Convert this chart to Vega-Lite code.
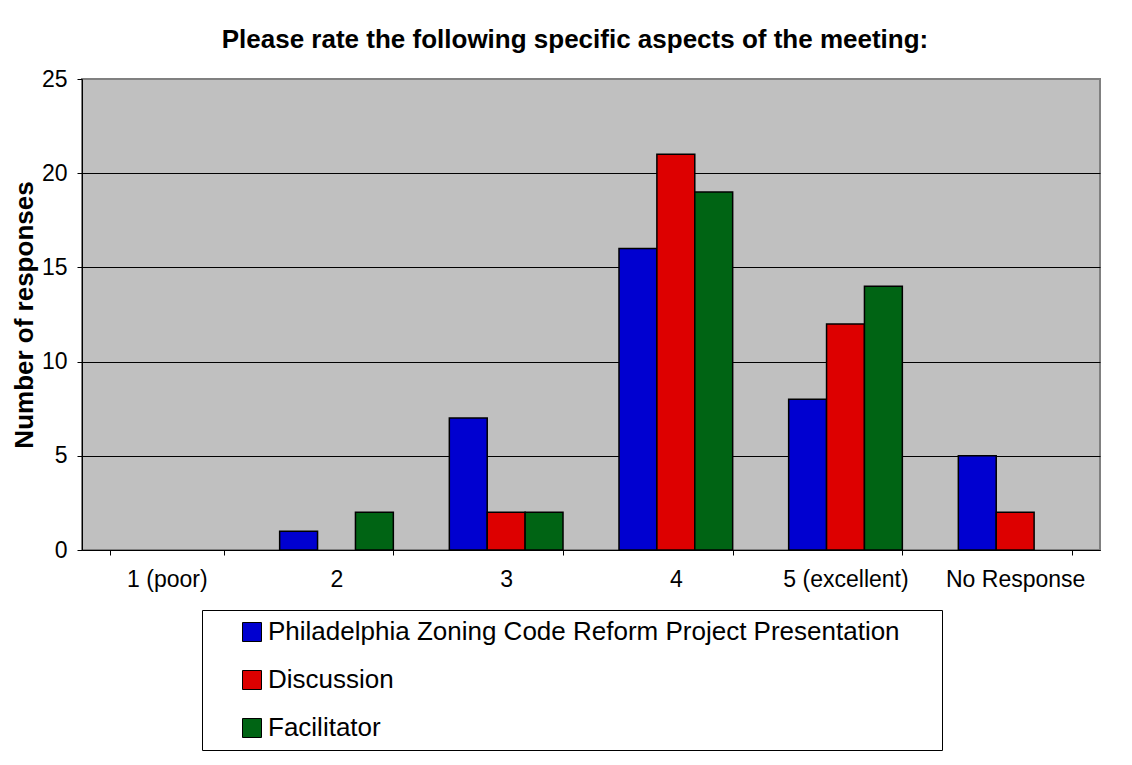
{
  "$schema": "https://vega.github.io/schema/vega-lite/v6.json",
  "width": 1018,
  "height": 471,
  "autosize": {"type": "none"},
  "padding": {"left": 82, "top": 79, "right": 32, "bottom": 215},
  "background": "white",
  "title": {
    "text": "Please rate the following specific aspects of the meeting:",
    "font": "Liberation Sans",
    "fontSize": 26,
    "fontWeight": "bold",
    "color": "black",
    "anchor": "middle",
    "dx": -16,
    "offset": 15
  },
  "data": {
    "values": [
      {"rating": "1 (poor)", "series": "Philadelphia Zoning Code Reform Project Presentation", "count": 0},
      {"rating": "1 (poor)", "series": "Discussion", "count": 0},
      {"rating": "1 (poor)", "series": "Facilitator", "count": 0},
      {"rating": "2", "series": "Philadelphia Zoning Code Reform Project Presentation", "count": 1},
      {"rating": "2", "series": "Discussion", "count": 0},
      {"rating": "2", "series": "Facilitator", "count": 2},
      {"rating": "3", "series": "Philadelphia Zoning Code Reform Project Presentation", "count": 7},
      {"rating": "3", "series": "Discussion", "count": 2},
      {"rating": "3", "series": "Facilitator", "count": 2},
      {"rating": "4", "series": "Philadelphia Zoning Code Reform Project Presentation", "count": 16},
      {"rating": "4", "series": "Discussion", "count": 21},
      {"rating": "4", "series": "Facilitator", "count": 19},
      {"rating": "5 (excellent)", "series": "Philadelphia Zoning Code Reform Project Presentation", "count": 8},
      {"rating": "5 (excellent)", "series": "Discussion", "count": 12},
      {"rating": "5 (excellent)", "series": "Facilitator", "count": 14},
      {"rating": "No Response", "series": "Philadelphia Zoning Code Reform Project Presentation", "count": 5},
      {"rating": "No Response", "series": "Discussion", "count": 2},
      {"rating": "No Response", "series": "Facilitator", "count": 0}
    ]
  },
  "transform": [{"filter": "datum.count > 0"}],
  "mark": {"type": "bar", "stroke": "black", "strokeWidth": 1.5},
  "encoding": {
    "x": {
      "field": "rating",
      "type": "nominal",
      "scale": {
        "domain": ["1 (poor)", "2", "3", "4", "5 (excellent)", "No Response"],
        "paddingInner": 0.33,
        "paddingOuter": 0.165
      },
      "axis": {
        "title": null,
        "labelAngle": 0,
        "labelFont": "Liberation Sans",
        "labelFontSize": 23,
        "labelColor": "black",
        "labelPadding": 13,
        "domainColor": "black",
        "tickColor": "black",
        "tickSize": 5,
        "tickBand": "extent",
        "grid": false
      }
    },
    "xOffset": {
      "field": "series",
      "type": "nominal",
      "scale": {
        "domain": ["Philadelphia Zoning Code Reform Project Presentation", "Discussion", "Facilitator"],
        "paddingInner": 0,
        "paddingOuter": 0
      }
    },
    "y": {
      "field": "count",
      "type": "quantitative",
      "scale": {"domain": [0, 25], "nice": false},
      "axis": {
        "title": "Number of responses",
        "titleFont": "Liberation Sans",
        "titleFontSize": 26,
        "titleFontWeight": "bold",
        "titleColor": "black",
        "titlePadding": 4,
        "values": [0, 5, 10, 15, 20, 25],
        "labelFont": "Liberation Sans",
        "labelFontSize": 23,
        "labelColor": "black",
        "labelPadding": 10,
        "domainColor": "black",
        "tickColor": "black",
        "tickSize": 5,
        "grid": true,
        "gridColor": {"condition": {"test": "datum.value == 25", "value": "#808080"}, "value": "black"},
        "gridWidth": 1
      }
    },
    "color": {
      "field": "series",
      "type": "nominal",
      "scale": {
        "domain": ["Philadelphia Zoning Code Reform Project Presentation", "Discussion", "Facilitator"],
        "range": ["#0000D0", "#DD0000", "#006414"]
      },
      "legend": {
        "title": " ",
        "titleOrient": "right",
        "titleFontSize": 1,
        "titlePadding": 33,
        "orient": "none",
        "legendX": 120,
        "legendY": 531,
        "direction": "vertical",
        "padding": 9,
        "strokeColor": "black",
        "fillColor": "white",
        "symbolType": "square",
        "symbolSize": 361,
        "symbolStrokeColor": "black",
        "symbolStrokeWidth": 1,
        "symbolOffset": 28,
        "labelFont": "Liberation Sans",
        "labelFontSize": 26,
        "labelColor": "black",
        "labelOffset": 3,
        "labelLimit": 900,
        "rowPadding": 22
      }
    }
  },
  "config": {
    "view": {"fill": "#C0C0C0", "stroke": "#808080", "strokeWidth": 2},
    "axis": {"gridOpacity": 1}
  }
}
